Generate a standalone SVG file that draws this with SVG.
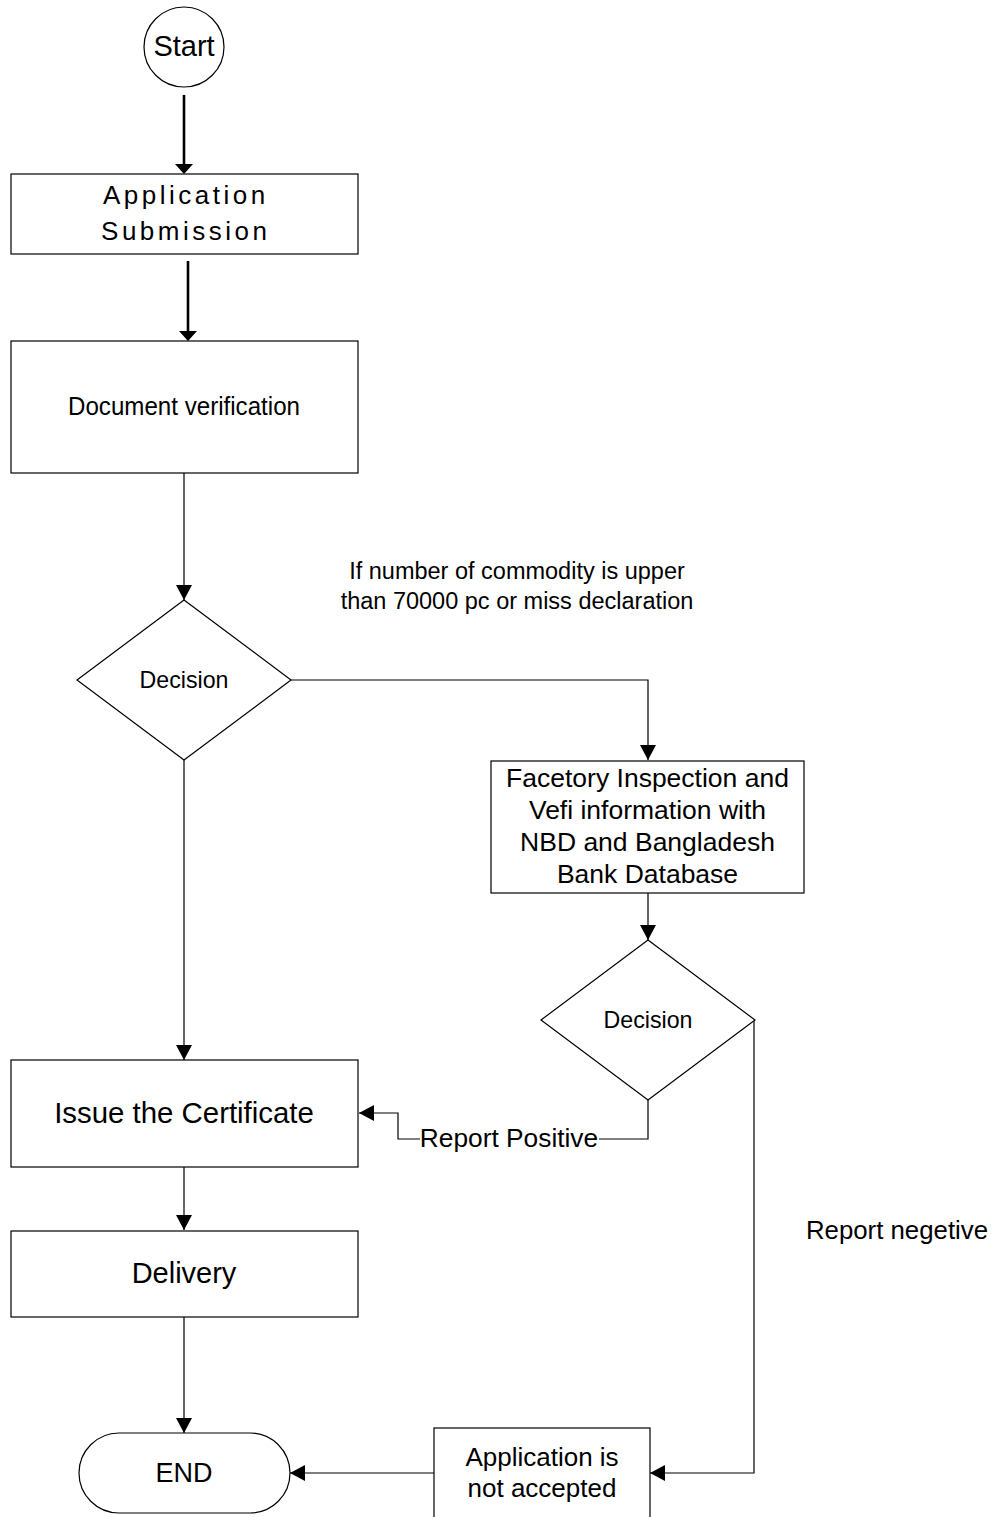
<svg xmlns="http://www.w3.org/2000/svg" width="1000" height="1517" viewBox="0 0 1000 1517">
<style>
.shape{fill:#fff;stroke:#000;stroke-width:1.2}
.conn{fill:none;stroke:#000;stroke-width:1.2}
.thick{fill:none;stroke:#000;stroke-width:2.6}
text{font-family:"Liberation Sans",Arial,sans-serif;fill:#000;text-anchor:middle}
</style>
<defs>
<marker id="arr" markerUnits="userSpaceOnUse" markerWidth="16" markerHeight="18" refX="15" refY="8" orient="auto" viewBox="0 0 16 16">
<path d="M0,0 L15,8 L0,16 z" fill="#000"/>
</marker>
<marker id="arrT" markerUnits="userSpaceOnUse" markerWidth="11" markerHeight="18" refX="5" refY="9" orient="auto" viewBox="0 0 11 18">
<path d="M0,0 L10,9 L0,18 z" fill="#000"/>
</marker>
</defs>
<rect width="1000" height="1517" fill="#fff"/>

<g id="connectors">
<path class="thick" d="M184,95 V169" marker-end="url(#arrT)"/>
<path class="thick" d="M188,261 V336" marker-end="url(#arrT)"/>
<path class="conn" d="M184,473 V600" marker-end="url(#arr)"/>
<path class="conn" d="M291,680 H648 V760" marker-end="url(#arr)"/>
<path class="conn" d="M184,760 V1060" marker-end="url(#arr)"/>
<path class="conn" d="M648,893 V940" marker-end="url(#arr)"/>
<path class="conn" d="M648,1100 V1139 H599"/>
<path class="conn" d="M420,1139 H398 V1113 H359" marker-end="url(#arr)"/>
<path class="conn" d="M754,1020 V1473 H650" marker-end="url(#arr)"/>
<path class="conn" d="M434,1473 H290" marker-end="url(#arr)"/>
<path class="conn" d="M184,1167 V1230" marker-end="url(#arr)"/>
<path class="conn" d="M184,1317 V1433" marker-end="url(#arr)"/>
<text x="509" y="1147" font-size="26.3">Report Positive</text>
<text x="897" y="1239" font-size="25.8">Report negetive</text>
<text x="517" y="579" font-size="23.5">If number of commodity is upper</text>
<text x="517" y="609" font-size="23.5">than 70000 pc or miss declaration</text>
</g>

<g id="start">
<circle class="shape" cx="184" cy="47" r="40"/>
<text x="184" y="56" font-size="29">Start</text>
</g>

<g id="application-submission">
<rect class="shape" x="11" y="174" width="347" height="80"/>
<text x="185.75" y="204" font-size="26" letter-spacing="3.5">Application</text>
<text x="185.75" y="240" font-size="26" letter-spacing="3.5">Submission</text>
</g>

<g id="document-verification">
<rect class="shape" x="11" y="341" width="347" height="132"/>
<text x="184" y="415" font-size="25.5" textLength="232" lengthAdjust="spacingAndGlyphs">Document verification</text>
</g>

<g id="decision-1">
<polygon class="shape" points="184,600 291,680 184,760 77,680"/>
<text x="184" y="688" font-size="23.2">Decision</text>
</g>

<g id="factory-inspection">
<rect class="shape" x="491" y="761" width="313" height="132"/>
<text x="647.5" y="787" font-size="26.5">Facetory Inspection and</text>
<text x="647.5" y="819" font-size="26.5">Vefi information with</text>
<text x="647.5" y="851" font-size="26.5">NBD and Bangladesh</text>
<text x="647.5" y="883" font-size="26.5">Bank Database</text>
</g>

<g id="decision-2">
<polygon class="shape" points="648,940 755,1020 648,1100 541,1020"/>
<text x="648" y="1028" font-size="23.2">Decision</text>
</g>

<g id="issue-certificate">
<rect class="shape" x="11" y="1060" width="347" height="107"/>
<text x="184" y="1123" font-size="29.4">Issue the Certificate</text>
</g>

<g id="delivery">
<rect class="shape" x="11" y="1231" width="347" height="86"/>
<text x="184" y="1283" font-size="29">Delivery</text>
</g>

<g id="end">
<rect class="shape" x="79" y="1433" width="211" height="80" rx="40" ry="40"/>
<text x="184" y="1482" font-size="27">END</text>
</g>

<g id="not-accepted">
<rect class="shape" x="434" y="1428" width="216" height="100"/>
<text x="542" y="1466" font-size="26">Application is</text>
<text x="542" y="1497" font-size="26">not accepted</text>
</g>
</svg>
